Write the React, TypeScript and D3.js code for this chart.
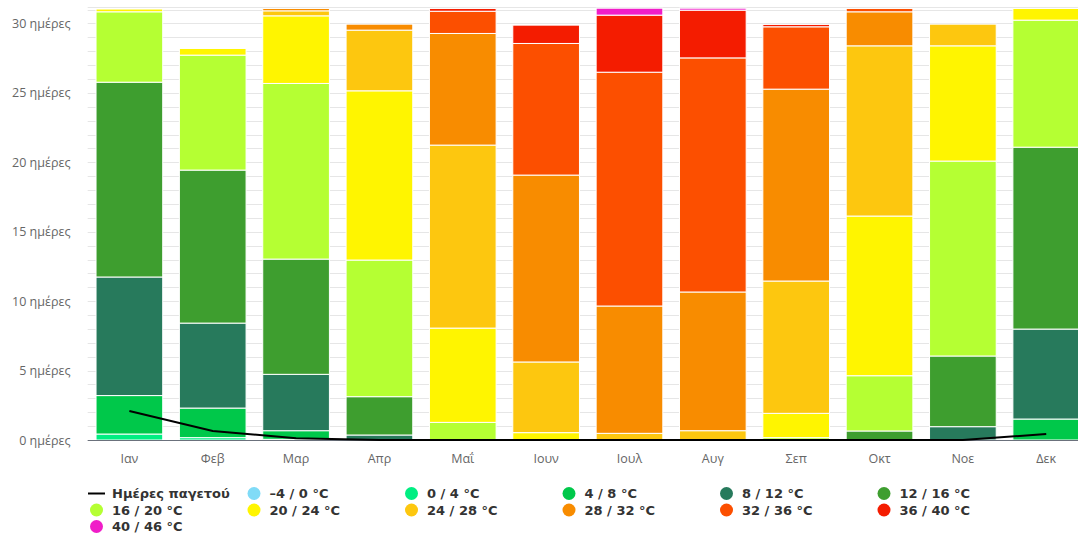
import React, { useEffect, useRef } from 'react';
import * as d3 from 'd3';

const months = ['Ιαν', 'Φεβ', 'Μαρ', 'Απρ', 'Μαΐ', 'Ιουν', 'Ιουλ', 'Αυγ', 'Σεπ', 'Οκτ', 'Νοε', 'Δεκ'];
const yTicks = [0, 5, 10, 15, 20, 25, 30];

// days per month in each temperature band (max temp)
const bandM4to0 = [0, 0, 0, 0, 0, 0, 0, 0, 0, 0, 0, 0];
const band0to4 = [0.43, 0.17, 0.05, 0, 0, 0, 0, 0, 0, 0, 0, 0];
const band4to8 = [2.77, 2.13, 0.62, 0, 0, 0, 0, 0, 0, 0, 0, 1.51];
const band8to12 = [8.54, 6.12, 4.06, 0.36, 0, 0, 0, 0, 0, 0, 0.96, 6.48];
const band12to16 = [14.03, 11.02, 8.3, 2.76, 0, 0, 0, 0, 0, 0.65, 5.09, 13.1];
const band16to20 = [5.07, 8.28, 12.65, 9.84, 1.27, 0, 0, 0, 0.17, 3.98, 14.04, 9.15];
const band20to24 = [0.2, 0.48, 4.87, 12.19, 6.79, 0.53, 0, 0, 1.75, 11.5, 8.3, 0.84];
const band24to28 = [0, 0, 0.36, 4.37, 13.18, 5.09, 0.48, 0.67, 9.53, 12.26, 1.56, 0];
const band28to32 = [0, 0, 0.17, 0.43, 8.04, 13.46, 9.17, 9.99, 13.82, 2.45, 0, 0];
const band32to36 = [0, 0, 0, 0, 1.6, 9.48, 16.84, 16.86, 4.49, 0.24, 0, 0];
const band36to40 = [0, 0, 0, 0, 0.2, 1.32, 4.11, 3.44, 0.17, 0, 0, 0];
const band40to46 = [0, 0, 0, 0, 0, 0, 0.5, 0.14, 0, 0, 0, 0];
const frostDays = [2.09, 0.65, 0.12, 0, 0, 0, 0, 0, 0, 0, 0, 0.43];

const bandNames = ['–4 / 0 °C', '0 / 4 °C', '4 / 8 °C', '8 / 12 °C', '12 / 16 °C', '16 / 20 °C',
  '20 / 24 °C', '24 / 28 °C', '28 / 32 °C', '32 / 36 °C', '36 / 40 °C', '40 / 46 °C'];
const bandColors = ['#80dbf7', '#00ee82', '#00c84a', '#277a5c', '#3e9e2f', '#b5ff33',
  '#fff500', '#fdc70f', '#f88c00', '#fc4f00', '#f41c00', '#f01dc8'];
const bandValues = [bandM4to0, band0to4, band4to8, band8to12, band12to16, band16to20,
  band20to24, band24to28, band28to32, band32to36, band36to40, band40to46];

const width = 1078;
const height = 533;
const margin = { top: 7.5, left: 87.7, bottom: 93 };

export default function App() {
  const ref = useRef<SVGSVGElement>(null);

  useEffect(() => {
    document.body.style.margin = '0';
    const svg = d3.select(ref.current);
    svg.selectAll('*').remove();

    const x = d3.scaleBand()
      .domain(months)
      .range([margin.left, margin.left + 12 * 83.35])
      .paddingInner(0.2)
      .paddingOuter(0.1);

    const y = d3.scaleLinear()
      .domain([0, 31.15])
      .range([height - margin.bottom, margin.top]);

    // grid
    const grid = svg.append('g');
    grid.selectAll('line')
      .data(d3.range(0, 32))
      .enter()
      .append('line')
      .attr('x1', margin.left)
      .attr('x2', width)
      .attr('y1', (d) => Math.round(y(d)) + 0.5)
      .attr('y2', (d) => Math.round(y(d)) + 0.5)
      .attr('stroke', '#e6e6e6');
    grid.append('line')
      .attr('x1', margin.left).attr('x2', width)
      .attr('y1', margin.top).attr('y2', margin.top)
      .attr('stroke', '#e6e6e6');

    // y labels
    svg.append('g')
      .selectAll('text')
      .data(yTicks)
      .enter()
      .append('text')
      .attr('x', 70.5)
      .attr('y', (d) => y(d) + 4.5)
      .attr('text-anchor', 'end')
      .attr('font-family', 'Open Sans')
      .attr('font-size', 12.5)
      .attr('fill', '#666')
      .text((d) => `${d} ημέρες`);

    // stacked bars
    const rows = months.map((m, i) => {
      const row: any = { month: m };
      bandValues.forEach((vals, k) => { row[k] = vals[i]; });
      return row;
    });
    const stack = d3.stack<any>().keys(bandValues.map((_, k) => String(k)));
    const layers = stack(rows);

    svg.append('g')
      .selectAll('g')
      .data(layers)
      .enter()
      .append('g')
      .attr('fill', (d, i) => bandColors[i])
      .selectAll('rect')
      .data((d) => d.filter((s) => s[1] - s[0] > 0))
      .enter()
      .append('rect')
      .attr('x', (d) => x(d.data.month)!)
      .attr('width', x.bandwidth())
      .attr('y', (d) => y(d[1]))
      .attr('height', (d) => y(d[0]) - y(d[1]))
      .attr('stroke', '#fff')
      .attr('stroke-width', 1);

    // x axis line
    svg.append('line')
      .attr('x1', margin.left)
      .attr('x2', width)
      .attr('y1', y(0) + 0.5)
      .attr('y2', y(0) + 0.5)
      .attr('stroke', '#6b717c')
      .attr('stroke-width', 1);

    svg.append('g')
      .selectAll('text')
      .data(months)
      .enter()
      .append('text')
      .attr('x', (d) => x(d)! + x.bandwidth() / 2)
      .attr('y', 463)
      .attr('text-anchor', 'middle')
      .attr('font-family', 'Open Sans')
      .attr('font-size', 12.5)
      .attr('fill', '#666')
      .text((d) => d);

    // frost days line
    const line = d3.line<number>()
      .x((d, i) => x(months[i])! + x.bandwidth() / 2)
      .y((d) => y(d));
    svg.append('path')
      .datum(frostDays)
      .attr('d', line)
      .attr('fill', 'none')
      .attr('stroke', '#000')
      .attr('stroke-width', 2);

    // legend
    const legendItems = [{ name: 'Ημέρες παγετού', color: '#000', isLine: true }]
      .concat(bandNames.map((n, i) => ({ name: n, color: bandColors[i], isLine: false })));
    const colW = 157.5;
    const legend = svg.append('g');
    legendItems.forEach((item, i) => {
      const col = i % 6;
      const row = Math.floor(i / 6);
      const cx = 96.5 + col * colW;
      const cy = 493.5 + row * 16.5;
      const g = legend.append('g');
      if (item.isLine) {
        g.append('line')
          .attr('x1', cx - 8.5).attr('x2', cx + 8.5)
          .attr('y1', cy).attr('y2', cy)
          .attr('stroke', item.color)
          .attr('stroke-width', 2);
      } else {
        g.append('circle')
          .attr('cx', cx).attr('cy', cy)
          .attr('r', 6.5)
          .attr('fill', item.color);
      }
      g.append('text')
        .attr('x', cx + 15.5)
        .attr('y', cy + 4.5)
        .attr('font-family', 'DejaVu Sans')
        .attr('font-weight', 'bold')
        .attr('font-size', 13)
        .attr('fill', '#333')
        .text(item.name);
    });
  }, []);

  return (
    <svg ref={ref} width={width} height={height} style={{ display: 'block', background: '#fff' }} />
  );
}
